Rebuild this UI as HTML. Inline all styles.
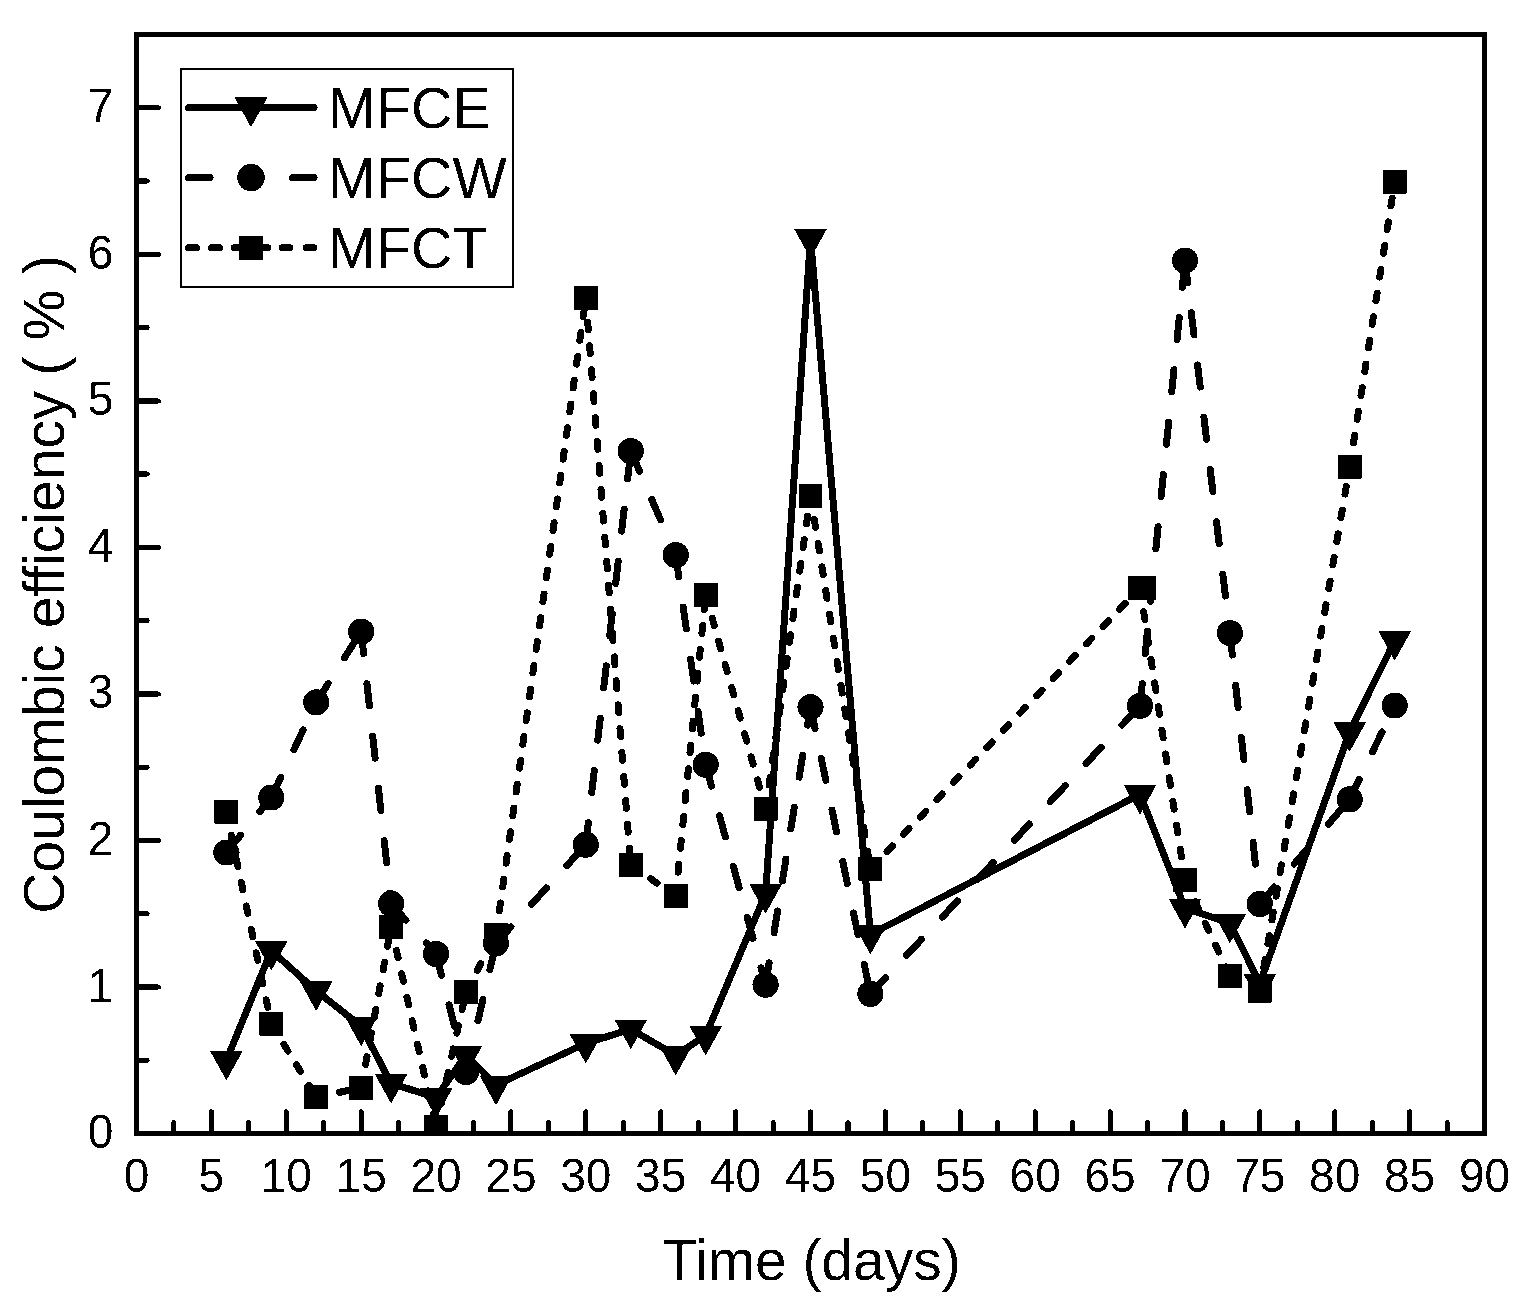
<!DOCTYPE html><html><head><meta charset="utf-8"><title>Coulombic efficiency</title><style>html,body{margin:0;padding:0;background:#fff;width:1534px;height:1301px;overflow:hidden}svg{display:block}text{font-family:"Liberation Sans",Arial,sans-serif;fill:#000}</style></head><body>
<svg width="1534" height="1301" viewBox="0 0 1534 1301">
<defs><filter id="bin" x="0" y="0" width="1534" height="1301" filterUnits="userSpaceOnUse" color-interpolation-filters="sRGB"><feComponentTransfer><feFuncR type="discrete" tableValues="0 1"/><feFuncG type="discrete" tableValues="0 1"/><feFuncB type="discrete" tableValues="0 1"/></feComponentTransfer></filter></defs>
<g filter="url(#bin)">
<rect width="1534" height="1301" fill="#fff"/>
<defs><clipPath id="pa"><rect x="136.5" y="34.5" width="1348" height="1099"/></clipPath></defs><g clip-path="url(#pa)">
<polyline points="226.4,1060.4 271.3,950.5 316.2,990.8 361.2,1026.2 391.1,1083.4 436.1,1097.6 466,1055.1 496,1085.1 585.8,1043.3 630.8,1029.2 675.7,1055.3 705.7,1035.3 765.6,893.6 810.5,238.3 870.4,934.5 1140,794.3 1185,908.3 1229.9,923.1 1259.8,983.5 1349.7,731.7 1394.7,640.7" fill="none" stroke="#000" stroke-width="7" stroke-linejoin="round" stroke-linecap="round"/>
<g stroke="#000" stroke-width="7" stroke-linecap="round" stroke-linejoin="round" fill="none" stroke-dasharray="22.2 30.4" stroke-dashoffset="0"><line x1="226.4" y1="852.5" x2="271.3" y2="797.5"/><line x1="271.3" y1="797.5" x2="316.2" y2="702.3"/><line x1="316.2" y1="702.3" x2="361.2" y2="631.5"/><line x1="361.2" y1="631.5" x2="391.1" y2="903.7"/><line x1="391.1" y1="903.7" x2="436.1" y2="953.9"/><line x1="436.1" y1="953.9" x2="466" y2="1072.1"/><line x1="466" y1="1072.1" x2="496" y2="943.3"/><line x1="496" y1="943.3" x2="585.8" y2="844.7"/><line x1="585.8" y1="844.7" x2="630.8" y2="451"/><line x1="630.8" y1="451" x2="675.7" y2="555"/><line x1="675.7" y1="555" x2="705.7" y2="764.8"/><line x1="705.7" y1="764.8" x2="765.6" y2="984.8"/><line x1="765.6" y1="984.8" x2="810.5" y2="707"/><line x1="810.5" y1="707" x2="870.4" y2="993.9"/><line x1="870.4" y1="993.9" x2="1140" y2="705.8"/><line x1="1140" y1="705.8" x2="1185" y2="260.6"/><line x1="1185" y1="260.6" x2="1229.9" y2="633"/><line x1="1229.9" y1="633" x2="1259.8" y2="903.9"/><line x1="1259.8" y1="903.9" x2="1349.7" y2="799.4"/><line x1="1349.7" y1="799.4" x2="1394.7" y2="705.5"/></g>
<g stroke="#000" stroke-width="7" stroke-linecap="round" stroke-linejoin="round" fill="none" stroke-dasharray="7.8 16.2" stroke-dashoffset="0"><line x1="226.4" y1="811.9" x2="271.3" y2="1023.9"/><line x1="271.3" y1="1023.9" x2="316.2" y2="1096.9"/><line x1="316.2" y1="1096.9" x2="361.2" y2="1087.9"/><line x1="361.2" y1="1087.9" x2="391.1" y2="926.9"/><line x1="391.1" y1="926.9" x2="436.1" y2="1126.9"/><line x1="436.1" y1="1126.9" x2="466" y2="991.7"/><line x1="466" y1="991.7" x2="496" y2="934.5"/><line x1="496" y1="934.5" x2="585.8" y2="298"/><line x1="585.8" y1="298" x2="630.8" y2="865.1"/><line x1="630.8" y1="865.1" x2="675.7" y2="896"/><line x1="675.7" y1="896" x2="705.7" y2="595"/><line x1="705.7" y1="595" x2="765.6" y2="808.8"/><line x1="765.6" y1="808.8" x2="810.5" y2="495.8"/><line x1="810.5" y1="495.8" x2="870.4" y2="868.9"/><line x1="870.4" y1="868.9" x2="1140" y2="588"/><line x1="1140" y1="588" x2="1185" y2="879.9"/><line x1="1185" y1="879.9" x2="1229.9" y2="975.8"/><line x1="1229.9" y1="975.8" x2="1259.8" y2="990.8"/><line x1="1259.8" y1="990.8" x2="1349.7" y2="466.6"/><line x1="1349.7" y1="466.6" x2="1394.7" y2="181.9"/></g>
<g fill="#000"><path d="M210.1 1051H242.7L226.4 1080.5Z"/><path d="M255 941.1H287.6L271.3 970.6Z"/><path d="M299.9 981.4H332.5L316.2 1010.9Z"/><path d="M344.9 1016.8H377.5L361.2 1046.3Z"/><path d="M374.8 1074H407.4L391.1 1103.5Z"/><path d="M419.8 1088.2H452.4L436.1 1117.7Z"/><path d="M449.7 1045.7H482.3L466 1075.2Z"/><path d="M479.7 1075.7H512.3L496 1105.2Z"/><path d="M569.5 1033.9H602.1L585.8 1063.4Z"/><path d="M614.5 1019.8H647.1L630.8 1049.3Z"/><path d="M659.4 1045.9H692L675.7 1075.4Z"/><path d="M689.4 1025.9H722L705.7 1055.4Z"/><path d="M749.3 884.2H781.9L765.6 913.7Z"/><path d="M794.2 228.9H826.8L810.5 258.4Z"/><path d="M854.1 925.1H886.7L870.4 954.6Z"/><path d="M1123.7 784.9H1156.3L1140 814.4Z"/><path d="M1168.7 898.9H1201.3L1185 928.4Z"/><path d="M1213.6 913.7H1246.2L1229.9 943.2Z"/><path d="M1243.5 974.1H1276.1L1259.8 1003.6Z"/><path d="M1333.4 722.3H1366L1349.7 751.8Z"/><path d="M1378.4 631.3H1411L1394.7 660.8Z"/><circle cx="226.4" cy="852.5" r="13.1"/><circle cx="271.3" cy="797.5" r="13.1"/><circle cx="316.2" cy="702.3" r="13.1"/><circle cx="361.2" cy="631.5" r="13.1"/><circle cx="391.1" cy="903.7" r="13.1"/><circle cx="436.1" cy="953.9" r="13.1"/><circle cx="466" cy="1072.1" r="13.1"/><circle cx="496" cy="943.3" r="13.1"/><circle cx="585.8" cy="844.7" r="13.1"/><circle cx="630.8" cy="451" r="13.1"/><circle cx="675.7" cy="555" r="13.1"/><circle cx="705.7" cy="764.8" r="13.1"/><circle cx="765.6" cy="984.8" r="13.1"/><circle cx="810.5" cy="707" r="13.1"/><circle cx="870.4" cy="993.9" r="13.1"/><circle cx="1140" cy="705.8" r="13.1"/><circle cx="1185" cy="260.6" r="13.1"/><circle cx="1229.9" cy="633" r="13.1"/><circle cx="1259.8" cy="903.9" r="13.1"/><circle cx="1349.7" cy="799.4" r="13.1"/><circle cx="1394.7" cy="705.5" r="13.1"/><rect x="214.5" y="800" width="23.8" height="23.8"/><rect x="259.4" y="1012" width="23.8" height="23.8"/><rect x="304.3" y="1085" width="23.8" height="23.8"/><rect x="349.3" y="1076" width="23.8" height="23.8"/><rect x="379.2" y="915" width="23.8" height="23.8"/><rect x="424.2" y="1115" width="23.8" height="23.8"/><rect x="454.1" y="979.8" width="23.8" height="23.8"/><rect x="484.1" y="922.6" width="23.8" height="23.8"/><rect x="573.9" y="286.1" width="23.8" height="23.8"/><rect x="618.9" y="853.2" width="23.8" height="23.8"/><rect x="663.8" y="884.1" width="23.8" height="23.8"/><rect x="693.8" y="583.1" width="23.8" height="23.8"/><rect x="753.7" y="796.9" width="23.8" height="23.8"/><rect x="798.6" y="483.9" width="23.8" height="23.8"/><rect x="858.5" y="857" width="23.8" height="23.8"/><rect x="1128" y="576.1" width="28" height="23.8"/><rect x="1173.1" y="868" width="23.8" height="23.8"/><rect x="1218" y="963.9" width="23.8" height="23.8"/><rect x="1247.9" y="978.9" width="23.8" height="23.8"/><rect x="1337.8" y="454.7" width="23.8" height="23.8"/><rect x="1382.8" y="170" width="23.8" height="23.8"/></g>
</g>
<rect x="136.5" y="34.5" width="1348" height="1099" fill="none" stroke="#000" stroke-width="5"/>
<g stroke="#000" stroke-width="5" stroke-linecap="round"><line x1="173.9" y1="1133.5" x2="173.9" y2="1122.5"/><line x1="211.4" y1="1133.5" x2="211.4" y2="1111.8"/><line x1="248.8" y1="1133.5" x2="248.8" y2="1122.5"/><line x1="286.3" y1="1133.5" x2="286.3" y2="1111.8"/><line x1="323.7" y1="1133.5" x2="323.7" y2="1122.5"/><line x1="361.2" y1="1133.5" x2="361.2" y2="1111.8"/><line x1="398.6" y1="1133.5" x2="398.6" y2="1122.5"/><line x1="436.1" y1="1133.5" x2="436.1" y2="1111.8"/><line x1="473.5" y1="1133.5" x2="473.5" y2="1122.5"/><line x1="510.9" y1="1133.5" x2="510.9" y2="1111.8"/><line x1="548.4" y1="1133.5" x2="548.4" y2="1122.5"/><line x1="585.8" y1="1133.5" x2="585.8" y2="1111.8"/><line x1="623.3" y1="1133.5" x2="623.3" y2="1122.5"/><line x1="660.7" y1="1133.5" x2="660.7" y2="1111.8"/><line x1="698.2" y1="1133.5" x2="698.2" y2="1122.5"/><line x1="735.6" y1="1133.5" x2="735.6" y2="1111.8"/><line x1="773.1" y1="1133.5" x2="773.1" y2="1122.5"/><line x1="810.5" y1="1133.5" x2="810.5" y2="1111.8"/><line x1="848" y1="1133.5" x2="848" y2="1122.5"/><line x1="885.4" y1="1133.5" x2="885.4" y2="1111.8"/><line x1="922.8" y1="1133.5" x2="922.8" y2="1122.5"/><line x1="960.3" y1="1133.5" x2="960.3" y2="1111.8"/><line x1="997.7" y1="1133.5" x2="997.7" y2="1122.5"/><line x1="1035.2" y1="1133.5" x2="1035.2" y2="1111.8"/><line x1="1072.6" y1="1133.5" x2="1072.6" y2="1122.5"/><line x1="1110.1" y1="1133.5" x2="1110.1" y2="1111.8"/><line x1="1147.5" y1="1133.5" x2="1147.5" y2="1122.5"/><line x1="1185" y1="1133.5" x2="1185" y2="1111.8"/><line x1="1222.4" y1="1133.5" x2="1222.4" y2="1122.5"/><line x1="1259.8" y1="1133.5" x2="1259.8" y2="1111.8"/><line x1="1297.3" y1="1133.5" x2="1297.3" y2="1122.5"/><line x1="1334.7" y1="1133.5" x2="1334.7" y2="1111.8"/><line x1="1372.2" y1="1133.5" x2="1372.2" y2="1122.5"/><line x1="1409.6" y1="1133.5" x2="1409.6" y2="1111.8"/><line x1="1447.1" y1="1133.5" x2="1447.1" y2="1122.5"/><line x1="136.5" y1="1060.2" x2="147.1" y2="1060.2"/><line x1="136.5" y1="987" x2="158.5" y2="987"/><line x1="136.5" y1="913.7" x2="147.1" y2="913.7"/><line x1="136.5" y1="840.4" x2="158.5" y2="840.4"/><line x1="136.5" y1="767.2" x2="147.1" y2="767.2"/><line x1="136.5" y1="693.9" x2="158.5" y2="693.9"/><line x1="136.5" y1="620.6" x2="147.1" y2="620.6"/><line x1="136.5" y1="547.4" x2="158.5" y2="547.4"/><line x1="136.5" y1="474.1" x2="147.1" y2="474.1"/><line x1="136.5" y1="400.9" x2="158.5" y2="400.9"/><line x1="136.5" y1="327.6" x2="147.1" y2="327.6"/><line x1="136.5" y1="254.3" x2="158.5" y2="254.3"/><line x1="136.5" y1="181.1" x2="147.1" y2="181.1"/><line x1="136.5" y1="107.8" x2="158.5" y2="107.8"/></g>
<g font-size="48.5"><text transform="translate(136.5 1191.5) scale(0.95 1)" text-anchor="middle">0</text><text transform="translate(211.4 1191.5) scale(0.95 1)" text-anchor="middle">5</text><text transform="translate(286.3 1191.5) scale(0.95 1)" text-anchor="middle">10</text><text transform="translate(361.2 1191.5) scale(0.95 1)" text-anchor="middle">15</text><text transform="translate(436.1 1191.5) scale(0.95 1)" text-anchor="middle">20</text><text transform="translate(510.9 1191.5) scale(0.95 1)" text-anchor="middle">25</text><text transform="translate(585.8 1191.5) scale(0.95 1)" text-anchor="middle">30</text><text transform="translate(660.7 1191.5) scale(0.95 1)" text-anchor="middle">35</text><text transform="translate(735.6 1191.5) scale(0.95 1)" text-anchor="middle">40</text><text transform="translate(810.5 1191.5) scale(0.95 1)" text-anchor="middle">45</text><text transform="translate(885.4 1191.5) scale(0.95 1)" text-anchor="middle">50</text><text transform="translate(960.3 1191.5) scale(0.95 1)" text-anchor="middle">55</text><text transform="translate(1035.2 1191.5) scale(0.95 1)" text-anchor="middle">60</text><text transform="translate(1110.1 1191.5) scale(0.95 1)" text-anchor="middle">65</text><text transform="translate(1185 1191.5) scale(0.95 1)" text-anchor="middle">70</text><text transform="translate(1259.8 1191.5) scale(0.95 1)" text-anchor="middle">75</text><text transform="translate(1334.7 1191.5) scale(0.95 1)" text-anchor="middle">80</text><text transform="translate(1409.6 1191.5) scale(0.95 1)" text-anchor="middle">85</text><text transform="translate(1484.5 1191.5) scale(0.95 1)" text-anchor="middle">90</text><text transform="translate(113.5 1148) scale(0.95 1)" text-anchor="end">0</text><text transform="translate(113.5 1001.5) scale(0.95 1)" text-anchor="end">1</text><text transform="translate(113.5 854.9) scale(0.95 1)" text-anchor="end">2</text><text transform="translate(113.5 708.4) scale(0.95 1)" text-anchor="end">3</text><text transform="translate(113.5 561.9) scale(0.95 1)" text-anchor="end">4</text><text transform="translate(113.5 415.4) scale(0.95 1)" text-anchor="end">5</text><text transform="translate(113.5 268.8) scale(0.95 1)" text-anchor="end">6</text><text transform="translate(113.5 122.3) scale(0.95 1)" text-anchor="end">7</text></g>
<text x="811.5" y="1279.8" font-size="56.9" text-anchor="middle">Time (days)</text>
<text transform="translate(63.5 584.4) rotate(-90)" font-size="57.1" text-anchor="middle">Coulombic efficiency ( % )</text>
<rect x="181" y="69" width="331.5" height="218" fill="none" stroke="#000" stroke-width="2"/>
<g stroke="#000" stroke-width="7"><line x1="188.5" y1="107.5" x2="314" y2="107.5" stroke-linecap="round"/><path d="M234.7 97.6H267.3L251 127.2Z" fill="#000" stroke="none"/><line x1="188.5" y1="177.5" x2="210" y2="177.5" stroke-linecap="round"/><line x1="292.5" y1="177.5" x2="314" y2="177.5" stroke-linecap="round"/><circle cx="251" cy="177.5" r="13.8" fill="#000" stroke="none"/><line x1="188.5" y1="247.7" x2="196.5" y2="247.7" stroke-linecap="round"/><line x1="211.5" y1="247.7" x2="219.5" y2="247.7" stroke-linecap="round"/><line x1="234" y1="247.7" x2="268" y2="247.7" stroke-linecap="round"/><line x1="282" y1="247.7" x2="290" y2="247.7" stroke-linecap="round"/><line x1="306" y1="247.7" x2="314" y2="247.7" stroke-linecap="round"/><rect x="239" y="236" width="24.2" height="24" fill="#000" stroke="none"/></g>
<g font-size="57.5"><text x="328" y="128">MFCE</text><text x="328" y="198">MFCW</text><text x="328" y="268">MFCT</text></g>
</g></svg></body></html>
